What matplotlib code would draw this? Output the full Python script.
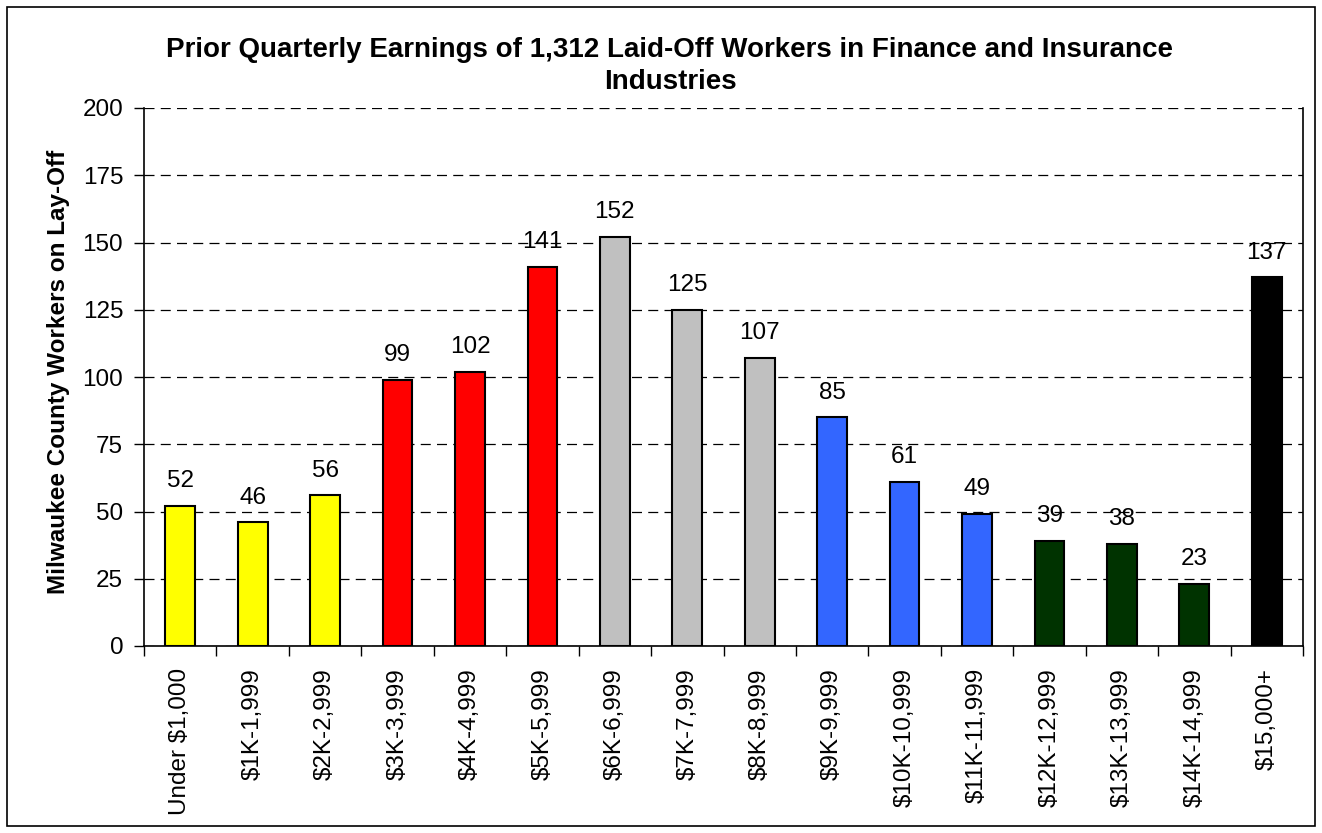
import matplotlib
matplotlib.use("Agg")
import matplotlib.pyplot as plt
from matplotlib.patches import Rectangle

plt.rcParams['font.family'] = ['Liberation Sans', 'DejaVu Sans']

categories = ["Under $1,000", "$1K-1,999", "$2K-2,999", "$3K-3,999", "$4K-4,999",
              "$5K-5,999", "$6K-6,999", "$7K-7,999", "$8K-8,999", "$9K-9,999",
              "$10K-10,999", "$11K-11,999", "$12K-12,999", "$13K-13,999",
              "$14K-14,999", "$15,000+"]
values = [52, 46, 56, 99, 102, 141, 152, 125, 107, 85, 61, 49, 39, 38, 23, 137]
colors = ["#FFFF00"] * 3 + ["#FF0000"] * 3 + ["#C0C0C0"] * 3 + ["#3366FF"] * 3 + \
         ["#003300"] * 3 + ["#000000"]
yticks = [0, 25, 50, 75, 100, 125, 150, 175, 200]
title_lines = ["Prior Quarterly Earnings of 1,312 Laid-Off Workers in Finance and Insurance",
               "Industries"]
ylabel = "Milwaukee County Workers on Lay-Off"

W, H = 1322, 833
FS = 17.5
fig = plt.figure(figsize=(W / 100, H / 100), dpi=100)
ax = fig.add_axes([144 / W, 1 - 646 / H, (1303 - 144) / W, (646 - 108) / H])

x = list(range(len(categories)))
ax.bar(x, values, width=0.41, color=colors, edgecolor="black", linewidth=1.5, zorder=3)
for xi, v in zip(x, values):
    ax.annotate(str(v), (xi, v), xytext=(0, 13.5), textcoords="offset points",
                ha="center", va="baseline", fontsize=FS, zorder=4)

ax.set_xlim(-0.5, len(categories) - 0.5)
ax.set_ylim(0, 200)
ax.set_yticks(yticks)
ax.set_yticklabels([str(t) for t in yticks], fontsize=FS)
ax.yaxis.grid(True, linestyle=(0, (8, 5)), color="black", linewidth=0.9, zorder=0)

ax.set_xticks([i - 0.5 for i in range(len(categories) + 1)], minor=False)
ax.set_xticklabels([])
ax.set_xticks(x, minor=True)
ax.set_xticklabels(categories, minor=True, rotation=90, fontsize=FS)
ax.tick_params(axis="x", which="minor", length=0, pad=16)
ax.tick_params(axis="x", which="major", length=7, direction="out", width=1)
ax.tick_params(axis="y", length=7, direction="out", width=1, pad=8)

ax.spines["top"].set_visible(False)
for s in ["left", "bottom", "right"]:
    ax.spines[s].set_linewidth(1.2)

fig.text(59 / W, 1 - 372 / H, ylabel, rotation=90, ha="center", va="center",
         fontsize=FS, fontweight="bold")
cx = 670 / W
fig.text(cx, 1 - 57 / H, title_lines[0], ha="center", va="baseline", fontsize=20, fontweight="bold")
fig.text(cx, 1 - 89 / H, title_lines[1], ha="center", va="baseline", fontsize=20, fontweight="bold")

fig.patches.append(Rectangle((7 / W, 7 / H), (1315 - 7) / W, (826 - 7) / H,
                             transform=fig.transFigure, fill=False, edgecolor="black",
                             linewidth=1.2))

fig.savefig("out.png", dpi=100, facecolor="white")
